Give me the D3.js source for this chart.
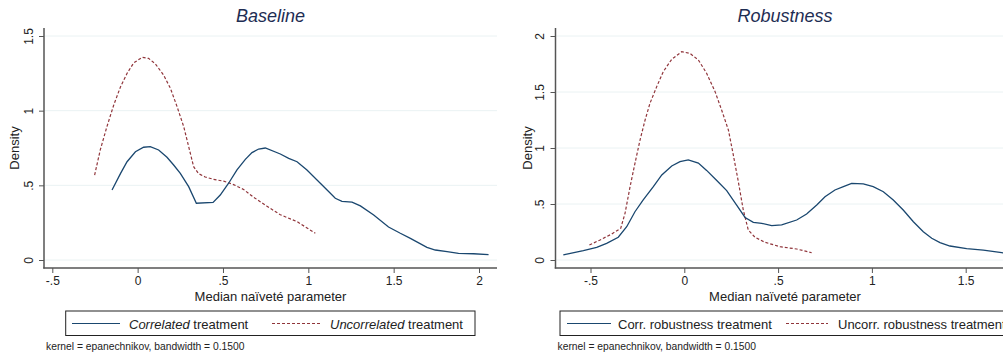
<!DOCTYPE html>
<html><head><meta charset="utf-8">
<script src="https://cdn.jsdelivr.net/npm/d3@7"></script>
<style>body{margin:0;background:#fff}svg{display:block;font-family:"Liberation Sans",Arial,sans-serif}</style>
</head><body><svg id="c" width="1003" height="358"></svg>
<script>
// ---- data ----
const baseCorrX = [-0.15,-0.10,-0.062,-0.013,0.035,0.074,0.123,0.172,0.211,0.25,0.299,0.344,0.442,0.484,0.533,0.582,0.631,0.67,0.709,0.748,0.836,0.885,0.934,0.992,1.051,1.11,1.158,1.197,1.256,1.305,1.383,1.47,1.539,1.598,1.695,1.744,1.813,1.88,1.968,2.056];
const baseCorrY = [0.469,0.58,0.658,0.725,0.755,0.759,0.737,0.688,0.636,0.58,0.491,0.38,0.386,0.435,0.514,0.603,0.674,0.719,0.743,0.75,0.71,0.681,0.658,0.603,0.536,0.469,0.413,0.393,0.388,0.362,0.301,0.221,0.179,0.145,0.085,0.067,0.056,0.045,0.042,0.036];
const baseUncX = [-0.252,-0.219,-0.18,-0.14,-0.10,-0.062,-0.023,0.026,0.064,0.104,0.152,0.192,0.231,0.27,0.299,0.328,0.357,0.396,0.445,0.504,0.562,0.621,0.68,0.758,0.836,0.934,1.041];
const baseUncY = [0.569,0.737,0.893,1.038,1.161,1.25,1.32,1.357,1.35,1.313,1.239,1.15,1.027,0.893,0.759,0.625,0.578,0.556,0.54,0.528,0.505,0.472,0.42,0.36,0.303,0.257,0.179];
const robCorrX = [-0.645,-0.538,-0.467,-0.414,-0.352,-0.307,-0.263,-0.219,-0.165,-0.12,-0.067,-0.023,0.021,0.075,0.119,0.173,0.226,0.279,0.324,0.368,0.413,0.466,0.519,0.599,0.652,0.706,0.75,0.803,0.848,0.892,0.954,1.007,1.061,1.114,1.167,1.221,1.274,1.319,1.363,1.416,1.505,1.594,1.692,1.75];
const robCorrY = [0.045,0.083,0.113,0.149,0.203,0.297,0.431,0.536,0.655,0.759,0.839,0.878,0.893,0.866,0.8,0.71,0.62,0.49,0.38,0.336,0.327,0.307,0.313,0.357,0.411,0.491,0.565,0.625,0.655,0.684,0.679,0.655,0.61,0.536,0.446,0.342,0.253,0.194,0.155,0.125,0.101,0.089,0.065,0.05];
const robUncX = [-0.506,-0.449,-0.387,-0.339,-0.316,-0.289,-0.263,-0.236,-0.209,-0.183,-0.147,-0.112,-0.067,-0.014,0.03,0.075,0.119,0.164,0.199,0.235,0.261,0.288,0.314,0.341,0.377,0.43,0.51,0.599,0.679];
const robUncY = [0.134,0.179,0.232,0.283,0.417,0.655,0.863,1.071,1.25,1.399,1.548,1.682,1.792,1.86,1.845,1.786,1.667,1.503,1.339,1.161,0.94,0.7,0.45,0.268,0.203,0.158,0.119,0.098,0.065];
const baseXTicks = [-0.5,0,0.5,1,1.5,2];
const baseXLabels = ["-.5","0",".5","1","1.5","2"];
const baseYTicks = [0,0.5,1,1.5];
const baseYLabels = ["0",".5","1","1.5"];
const robXTicks = [-0.5,0,0.5,1,1.5];
const robXLabels = ["-.5","0",".5","1","1.5"];
const robYTicks = [0,0.5,1,1.5,2];
const robYLabels = ["0",".5","1","1.5","2"];
const titles = ["Baseline","Robustness"];
const legendBase = [["Correlated"," treatment"],["Uncorrelated"," treatment"]];
const legendRob = [["","Corr. robustness treatment"],["","Uncorr. robustness treatment"]];
const xLabel = "Median naïveté parameter";
const yLabel = "Density";
const note = "kernel = epanechnikov, bandwidth = 0.1500";

const NAVY="#1a476f", MAROON="#90353b", GRID="#eaf2f3", AXIS="#555", TITLE="#1e2d53";
const FONT="Liberation Sans, Arial, sans-serif";
const svg = d3.select("#c");

const panels = [
  {ax:44, right:497, xd:[-0.5,2], xr:[52.3,479], yd:[0,1.5], yTop:36, dOff:25.5,
   xt:baseXTicks, xl:baseXLabels, yt:baseYTicks, yl:baseYLabels, title:titles[0],
   s1:[baseCorrX,baseCorrY], s2:[baseUncX,baseUncY], leg:legendBase,
   lb:[65.7,475], l1:[72,120,129], l2:[272,320,330], center:270.5},
  {ax:555.5, right:1016, xd:[-0.5,1.5], xr:[590.5,965.7], yd:[0,2], yTop:36, dOff:23.5,
   xt:robXTicks, xl:robXLabels, yt:robYTicks, yl:robYLabels, title:titles[1],
   s1:[robCorrX,robCorrY], s2:[robUncX,robUncY], leg:legendRob,
   lb:[560,1012], l1:[567,611,618], l2:[786,828,838], center:785}
];

panels.forEach(p=>{
  const x = d3.scaleLinear().domain(p.xd).range(p.xr);
  const y = d3.scaleLinear().domain(p.yd).range([260,p.yTop]);
  const g = svg.append("g");
  g.selectAll(".gl").data(p.yt).join("line")
    .attr("x1",p.ax+1).attr("x2",p.right).attr("y1",d=>y(d)).attr("y2",d=>y(d))
    .attr("stroke",GRID).attr("stroke-width",1);
  const line = d3.line().x(d=>x(d[0])).y(d=>y(d[1]));
  const clip = "clip"+Math.round(p.ax);
  svg.append("clipPath").attr("id",clip).append("rect").attr("x",p.ax).attr("y",20).attr("width",p.right-p.ax).attr("height",250);
  g.append("path").attr("d",line(d3.zip(p.s2[0],p.s2[1]))).attr("fill","none")
    .attr("stroke",MAROON).attr("stroke-width",1.2).attr("stroke-dasharray","3,2").attr("clip-path",`url(#${clip})`);
  g.append("path").attr("d",line(d3.zip(p.s1[0],p.s1[1]))).attr("fill","none")
    .attr("stroke",NAVY).attr("stroke-width",1.3).attr("clip-path",`url(#${clip})`);
  const ya = d3.axisLeft(y).tickValues(p.yt).tickFormat((d,i)=>p.yl[i]).tickSize(5).tickPadding(4);
  const yg = g.append("g").attr("transform",`translate(${p.ax},0)`).call(ya);
  yg.select(".domain").remove();
  yg.selectAll(".tick line").attr("stroke",AXIS);
  yg.selectAll(".tick text").attr("transform","rotate(-90)").attr("x",0).attr("y",-11.5)
    .attr("text-anchor","middle").attr("dy","0").attr("font-size",12).attr("fill","#222")
    .attr("font-family",FONT);
  g.append("line").attr("x1",p.ax).attr("x2",p.ax).attr("y1",28).attr("y2",268.5).attr("stroke",AXIS).attr("stroke-width",1.5);
  const xa = d3.axisBottom(x).tickValues(p.xt).tickFormat((d,i)=>p.xl[i]).tickSize(5).tickPadding(3);
  const xg = g.append("g").attr("transform",`translate(0,268)`).call(xa);
  xg.select(".domain").remove();
  xg.selectAll(".tick line").attr("stroke",AXIS);
  xg.selectAll(".tick text").attr("font-size",12).attr("fill","#222").attr("font-family",FONT);
  g.append("line").attr("x1",p.ax-0.75).attr("x2",p.right).attr("y1",268).attr("y2",268).attr("stroke",AXIS).attr("stroke-width",1.5);
  g.append("text").attr("x",p.center).attr("y",22).attr("text-anchor","middle")
    .attr("font-size",18).attr("font-style","italic").attr("fill",TITLE).text(p.title);
  g.append("text").attr("x",p.center).attr("y",300.5).attr("text-anchor","middle")
    .attr("font-size",13).attr("fill","#222").text(xLabel);
  g.append("text").attr("transform",`translate(${p.ax-p.dOff},148) rotate(-90)`).attr("text-anchor","middle")
    .attr("font-size",13).attr("fill","#222").text(yLabel);
  g.append("rect").attr("x",p.lb[0]).attr("y",311).attr("width",p.lb[1]-p.lb[0]).attr("height",24.5)
    .attr("fill","#fff").attr("stroke","#222").attr("stroke-width",1);
  g.append("line").attr("x1",p.l1[0]).attr("x2",p.l1[1]).attr("y1",323.5).attr("y2",323.5).attr("stroke",NAVY).attr("stroke-width",1.2);
  g.append("line").attr("x1",p.l2[0]).attr("x2",p.l2[1]).attr("y1",323.5).attr("y2",323.5).attr("stroke",MAROON).attr("stroke-width",1.1).attr("stroke-dasharray","3,2");
  [[p.l1[2],p.leg[0]],[p.l2[2],p.leg[1]]].forEach(([tx,parts])=>{
    const t = g.append("text").attr("x",tx).attr("y",328.5).attr("font-size",13).attr("fill","#222");
    if(parts[0]) t.append("tspan").attr("font-style","italic").text(parts[0]);
    t.append("tspan").text(parts[1]);
  });
  g.append("text").attr("x",p.ax+2).attr("y",350).attr("font-size",10.3).attr("fill","#222").text(note);
});
</script></body></html>
